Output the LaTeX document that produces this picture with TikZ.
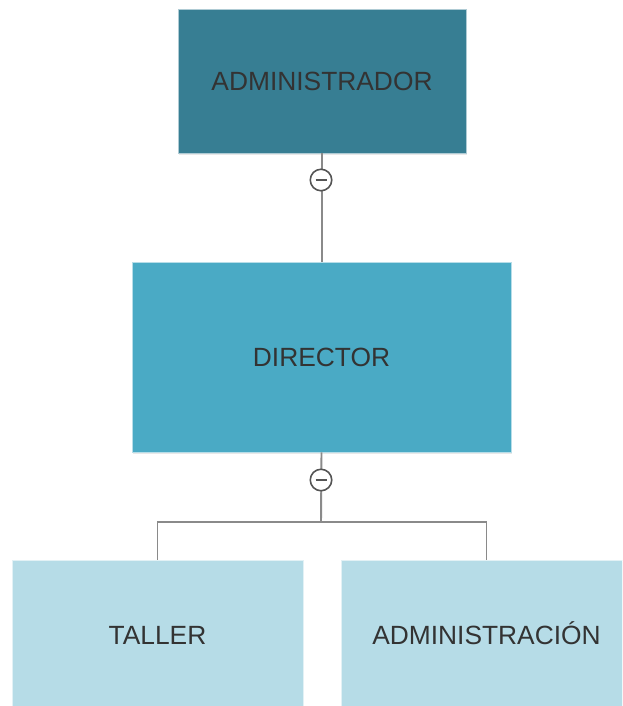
\documentclass[tikz,border=0pt]{standalone}
\usepackage{fontspec}
\setmainfont{Liberation Sans}
\usepackage{tikz}
\usetikzlibrary{shadows}
\definecolor{topbox}{HTML}{377E93}
\definecolor{midbox}{HTML}{4AAAC5}
\definecolor{lowbox}{HTML}{B6DCE7}
\definecolor{lbl}{HTML}{333333}
\definecolor{wire}{HTML}{8A8A8A}
\definecolor{knob}{HTML}{555555}

\begin{document}
\begin{tikzpicture}[x=0.02cm, y=-0.02cm,
	orgbox/.style={draw=white!60!#1, line width=0.4pt, fill=#1, text=lbl,
		font=\fontsize{15pt}{18pt}\selectfont, text height=10.8pt, text depth=0pt,
		drop shadow={opacity=0.18, shadow xshift=0.6pt, shadow yshift=-0.9pt}},
	conn/.style={draw=wire, line width=1.1pt},
	toggle/.style={circle, draw=knob, line width=0.9pt, fill=white,
		minimum size=0.43cm, inner sep=0pt,
		path picture={\draw[knob, line width=1.5pt]
			([xshift=-0.11cm]path picture bounding box.center) --
			([xshift=0.11cm]path picture bounding box.center);}}]
			\useasboundingbox (0,0) rectangle (622,706);
			\clip (0,0) rectangle (622,706);
			
			\coordinate (bus) at (321,522);
			
			\node (adm) at (322,81) [orgbox=topbox, minimum width=5.76cm, minimum height=2.88cm] {ADMINISTRADOR};
			\node (dir) at (321.5,357) [orgbox=midbox, minimum width=7.58cm, minimum height=3.8cm] {DIRECTOR};
			\node (tal) at (157.5,635) [orgbox=lowbox, minimum width=5.82cm, minimum height=3cm] {TALLER};
			\node (admc) at (486.5,635) [orgbox=lowbox, minimum width=5.82cm, minimum height=3cm] {ADMINISTRACIÓN};
			
			\draw[conn] (adm.south) -- (adm.south |- dir.north);
			\draw[conn] (dir.south) -- (bus);
			\draw[conn] (tal.north) |- (bus) -| (admc.north);
			
			\node (m1) at (321,180) [toggle] {};
			\node (m2) at (321,480) [toggle] {};
		\end{tikzpicture}
\end{document}
